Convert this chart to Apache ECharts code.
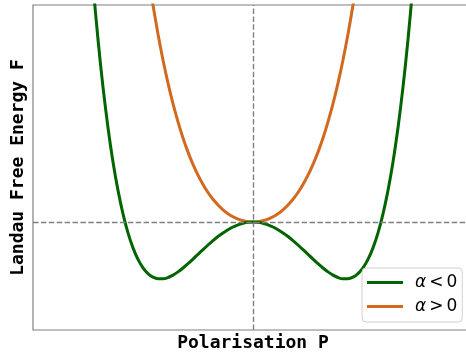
<!DOCTYPE html>
<html>
<head>
<meta charset="utf-8">
<script src="https://cdn.jsdelivr.net/npm/echarts@6/dist/echarts.min.js"></script>
<style>
  html, body { margin: 0; padding: 0; background: #fff; }
  #chart { width: 466px; height: 354px; }
</style>
</head>
<body>
<div id="chart"></div>
<script>
// Polarisation samples and free-energy values for the two phases
const polarisationNeg = [-1.7, -1.65, -1.6, -1.55, -1.5, -1.45, -1.4, -1.35, -1.3, -1.25, -1.2, -1.15, -1.1, -1.05, -1.0, -0.95, -0.9, -0.85,
  -0.8, -0.75, -0.7, -0.65, -0.6, -0.55, -0.5, -0.45, -0.4, -0.35, -0.3, -0.25, -0.2, -0.15, -0.1, -0.05,
  0, 0.05, 0.1, 0.15, 0.2, 0.25, 0.3, 0.35, 0.4, 0.45, 0.5, 0.55, 0.6, 0.65, 0.7, 0.75, 0.8,
  0.85, 0.9, 0.95, 1.0, 1.05, 1.1, 1.15, 1.2, 1.25, 1.3, 1.35, 1.4, 1.45, 1.5, 1.55, 1.6, 1.65, 1.7];
const energyNeg = [3.76, 3.022, 2.38, 1.825, 1.349, 0.943, 0.600, 0.316, 0.081, -0.109, -0.259, -0.374, -0.458, -0.516, -0.552, -0.568, -0.568, -0.555,
  -0.531, -0.499, -0.460, -0.417, -0.371, -0.323, -0.276, -0.230, -0.186, -0.145, -0.109, -0.077, -0.050, -0.028, -0.013, -0.003,
  0, -0.003, -0.013, -0.028, -0.050, -0.077, -0.109, -0.145, -0.186, -0.230, -0.276, -0.323, -0.371, -0.417, -0.460, -0.499, -0.531,
  -0.555, -0.568, -0.568, -0.552, -0.516, -0.458, -0.374, -0.259, -0.109, 0.081, 0.316, 0.600, 0.943, 1.349, 1.825, 2.38, 3.022, 3.76];

const polarisationPos = [-1.1, -1.05, -1.0, -0.95, -0.9, -0.85, -0.8, -0.75, -0.7, -0.65, -0.6, -0.55, -0.5, -0.45, -0.4, -0.35, -0.3, -0.25, -0.2, -0.15, -0.1, -0.05,
  0, 0.05, 0.1, 0.15, 0.2, 0.25, 0.3, 0.35, 0.4, 0.45, 0.5, 0.55, 0.6, 0.65, 0.7, 0.75, 0.8, 0.85, 0.9, 0.95, 1.0, 1.05, 1.1];
const energyPos = [2.852, 2.493, 2.170, 1.880, 1.620, 1.389, 1.183, 1.001, 0.840, 0.699, 0.576, 0.468, 0.375, 0.295, 0.227, 0.170, 0.122, 0.083, 0.053, 0.029, 0.013, 0.003,
  0, 0.003, 0.013, 0.029, 0.053, 0.083, 0.122, 0.170, 0.227, 0.295, 0.375, 0.468, 0.576, 0.699, 0.840, 1.001, 1.183, 1.389, 1.620, 1.880, 2.170, 2.493, 2.852];

const seriesNames = ['α < 0', 'α > 0'];
const seriesColors = ['#006400', '#D2691E'];

const pairs = (xs, ys) => xs.map((x, i) => [x, ys[i]]);

const chart = echarts.init(document.getElementById('chart'), null, { renderer: 'canvas' });

chart.setOption({
  animation: false,
  backgroundColor: '#ffffff',
  grid: {
    left: 33, right: -7, top: 5, bottom: 24,
    outerBoundsMode: 'none', containLabel: false,
    show: true, borderColor: '#808080', borderWidth: 1.2, backgroundColor: 'transparent'
  },
  xAxis: {
    type: 'value', min: -2.2, max: 2.2,
    name: 'Polarisation P', nameLocation: 'middle', nameGap: 4,
    nameTextStyle: { fontFamily: 'DejaVu Sans Mono', fontWeight: 'bold', fontSize: 18, color: '#000', verticalAlign: 'top' },
    axisLine: { show: false }, axisTick: { show: false }, axisLabel: { show: false }, splitLine: { show: false }
  },
  yAxis: {
    type: 'value', min: -1.08, max: 2.17,
    name: 'Landau Free Energy F', nameLocation: 'middle', nameGap: 6,
    nameTextStyle: { fontFamily: 'DejaVu Sans Mono', fontWeight: 'bold', fontSize: 18, color: '#000' },
    axisLine: { show: false }, axisTick: { show: false }, axisLabel: { show: false }, splitLine: { show: false }
  },
  legend: {
    data: seriesNames,
    orient: 'vertical',
    left: 362, top: 268,
    padding: [6, 5, 7, 5],
    itemGap: 7,
    itemWidth: 36, itemHeight: 3,
    icon: 'rect',
    backgroundColor: 'rgba(255,255,255,0.8)',
    borderColor: '#d0d0d0', borderWidth: 1, borderRadius: 4,
    formatter: name => '{i|α}{o|' + name.charAt(2) + '}{n|0}',
    textStyle: {
      rich: {
        i: { fontFamily: 'DejaVu Sans', fontStyle: 'italic', fontSize: 17, color: '#000', padding: [0, 0, 0, 7] },
        o: { fontFamily: 'DejaVu Sans', fontSize: 17, color: '#000', padding: [0, 3, 0, 3] },
        n: { fontFamily: 'DejaVu Sans', fontSize: 17, color: '#000' }
      }
    }
  },
  series: [
    {
      name: 'guides', type: 'line', data: [[0, 0]], symbol: 'none', lineStyle: { opacity: 0 }, z: 1,
      silent: true,
      markLine: {
        silent: true, symbol: 'none', label: { show: false },
        lineStyle: { color: '#808080', width: 1.4, type: [5.5, 2.4] },
        data: [{ xAxis: 0 }, { yAxis: 0 }]
      }
    },
    {
      name: seriesNames[0], type: 'line', data: pairs(polarisationNeg, energyNeg),
      smooth: 0.3, symbol: 'none', z: 3,
      lineStyle: { color: seriesColors[0], width: 3 }, itemStyle: { color: seriesColors[0] }
    },
    {
      name: seriesNames[1], type: 'line', data: pairs(polarisationPos, energyPos),
      smooth: 0.3, symbol: 'none', z: 2,
      lineStyle: { color: seriesColors[1], width: 3 }, itemStyle: { color: seriesColors[1] }
    }
  ]
});
</script>
</body>
</html>
